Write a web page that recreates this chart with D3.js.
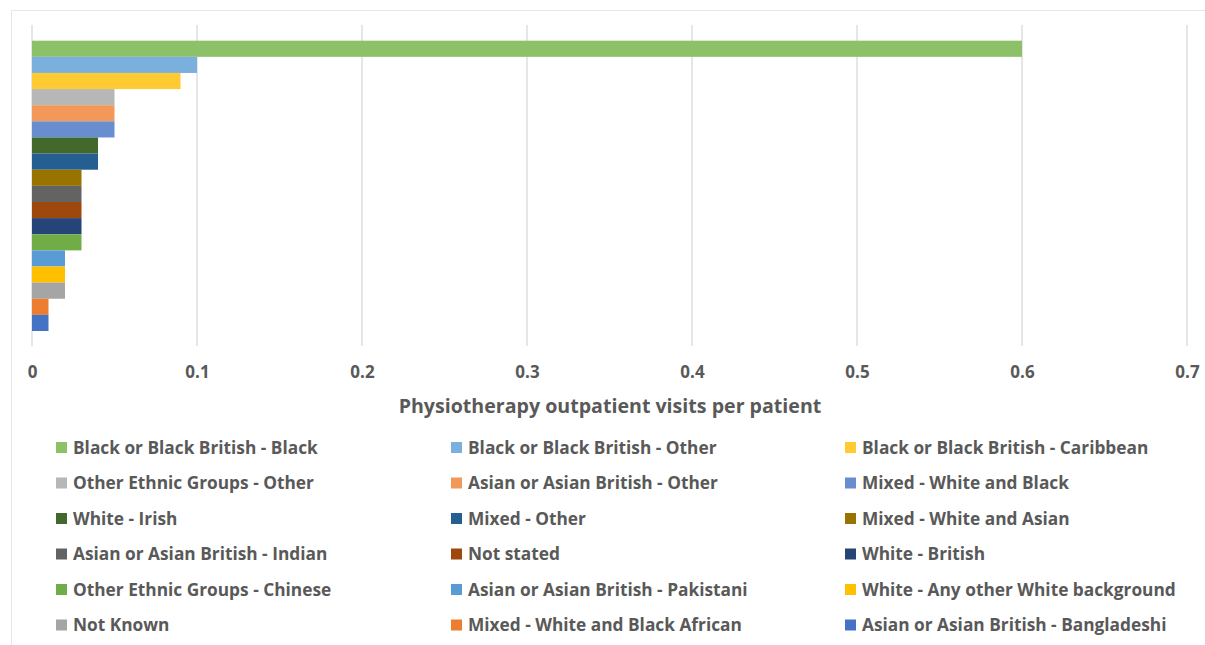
<!DOCTYPE html>
<html><head><meta charset="utf-8">
<script src="https://cdn.jsdelivr.net/npm/d3@7"></script>
<style>body{margin:0;background:#fff;} svg{display:block;}</style>
</head><body>
<svg id="c" width="1205" height="645"></svg>
<script>
const categories = ["Black or Black British - Black","Black or Black British - Other","Black or Black British - Caribbean",
"Other Ethnic Groups - Other","Asian or Asian British - Other","Mixed - White and Black",
"White - Irish","Mixed - Other","Mixed - White and Asian",
"Asian or Asian British - Indian","Not stated","White - British",
"Other Ethnic Groups - Chinese","Asian or Asian British - Pakistani","White - Any other White background",
"Not Known","Mixed - White and Black African","Asian or Asian British - Bangladeshi"];
const values = [0.6,0.1,0.09,0.05,0.05,0.05,0.04,0.04,0.03,0.03,0.03,0.03,0.03,0.02,0.02,0.02,0.01,0.01];
const colors = ["#8CC168","#7BAFDE","#FFCA32","#B7B7B7","#F2995A","#698ED0","#43682B","#255E91","#997300",
"#636363","#9E480E","#264478","#70AD47","#5B9BD5","#FFC000","#A5A5A5","#ED7D31","#4472C4"];
const tickValues = [0,0.1,0.2,0.3,0.4,0.5,0.6,0.7];
const tickLabels = ["0","0.1","0.2","0.3","0.4","0.5","0.6","0.7"];
const axisTitle = "Physiotherapy outpatient visits per patient";

const svg = d3.select("#c");
const font = "'Open Sans', sans-serif";
svg.append("rect").attr("x",11.5).attr("y",10.5).attr("width",1200).attr("height",640)
  .attr("fill","#fff").attr("stroke","#E6E6E6").attr("stroke-width",1);

const x = d3.scaleLinear().domain([0,0.7]).range([32,1187]);
const y = d3.scaleBand().domain(categories).range([40.7,331]).padding(0);

const grid = svg.append("g");
grid.selectAll("line").data(tickValues).join("line")
  .attr("x1",d=>x(d)).attr("x2",d=>x(d)).attr("y1",25).attr("y2",346)
  .attr("stroke","#D9D9D9").attr("stroke-width",1.3);

svg.append("g").selectAll("rect").data(categories).join("rect")
  .attr("x",x(0)).attr("y",d=>y(d))
  .attr("width",(d,i)=>x(values[i])-x(0)).attr("height",y.bandwidth())
  .attr("fill",(d,i)=>colors[i]);

const ax = d3.axisBottom(x).tickValues(tickValues).tickFormat((d,i)=>tickLabels[i]).tickSize(0).tickPadding(0);
const axg = svg.append("g").attr("transform","translate(0,372.5)").call(ax);
axg.select(".domain").remove();
axg.selectAll("text").attr("font-family",font).attr("font-weight",700).attr("font-size",17)
  .attr("fill","#595959").attr("dy","0.35em");

svg.append("text").attr("x",610).attr("y",406.5).attr("dy","0.35em").attr("text-anchor","middle")
  .attr("font-family",font).attr("font-weight",700).attr("font-size",19.6).attr("fill","#595959").text(axisTitle);

const colX = [56,451,845];
const rowY = [447.5,483,518.5,554,589.5,625];
const lg = svg.append("g");
categories.forEach((c,i)=>{
  const cx = colX[i%3], cy = rowY[Math.floor(i/3)];
  lg.append("rect").attr("x",cx).attr("y",cy-5.5).attr("width",11).attr("height",11).attr("fill",colors[i]);
  lg.append("text").attr("x",cx+17).attr("y",cy).attr("dy","0.35em")
    .attr("font-family",font).attr("font-weight",700).attr("font-size",17.3).attr("fill","#595959").text(c);
});
</script>
</body></html>
